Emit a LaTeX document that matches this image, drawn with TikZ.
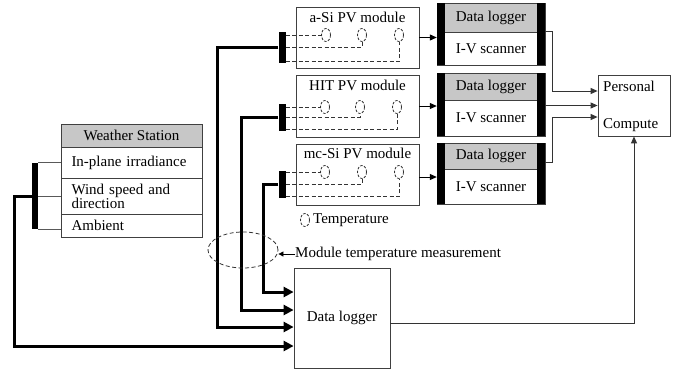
\documentclass[tikz,border=0pt]{standalone}
\usepackage{fontspec}
\setmainfont{Liberation Serif}
\usetikzlibrary{arrows.meta,shapes.geometric}
\begin{document}
\begin{tikzpicture}[x=1bp,y=-1bp,
  font=\fontsize{15bp}{14bp}\selectfont,
  box/.style={draw=black!75, line width=0.8bp, rectangle, inner sep=0pt},
  hdr/.style={box, fill=black!22},
  bar/.style={fill=black, draw=none, rectangle, inner sep=0pt},
  txt/.style={inner sep=0pt},
  thk/.style={line width=3bp},
  thkarrow/.style={line width=3bp, -{Triangle[length=10bp,width=10bp]}},
  thinarrow/.style={line width=1bp, draw=black!80, -{Triangle[length=7bp,width=6bp]}},
  thinline/.style={line width=1bp, draw=black!65},
  dsh/.style={dash pattern=on 4bp off 2.5bp, line width=0.8bp, draw=black!80},
  tc/.style={ellipse, draw=black!80, dash pattern=on 2.5bp off 1.5bp, line width=0.8bp,
    minimum width=9bp, minimum height=13bp, inner sep=0pt}]
\useasboundingbox (0,0) rectangle (675,374);

% ---------- PV modules ----------
\node[box, minimum width=123bp, minimum height=61bp] (asi) at (357.5,37.5) {};
\node[txt] (asiT) at (357.5,17) {a-Si PV module};
\node[bar, minimum width=7bp, minimum height=31bp] (asib) at (282,47.5) {};
\node[tc] (asi1) at (326,35) {};
\node[tc] (asi2) at (362,35) {};
\node[tc] (asi3) at (399,35) {};
\draw[dsh] (asib.east |- asi1) -- (asi1.west);
\draw[dsh] (asib.east) -| (asi2.south);
\draw[dsh] ([yshift=1.5bp]asib.south east) -| (asi3.south);

\node[box, minimum width=123bp, minimum height=62bp] (hit) at (357.5,106) {};
\node[txt] (hitT) at (357.5,85) {HIT PV module};
\node[bar, minimum width=7bp, minimum height=27bp] (hitb) at (282,117.5) {};
\node[tc] (hit1) at (325,107) {};
\node[tc] (hit2) at (360,107) {};
\node[tc] (hit3) at (397,107) {};
\draw[dsh] (hitb.east |- hit1) -- (hit1.west);
\draw[dsh] (hitb.east) -| (hit2.south);
\draw[dsh] ([yshift=1.5bp]hitb.south east) -| (hit3.south);

\node[box, minimum width=123bp, minimum height=61bp] (mc) at (357.5,174.5) {};
\node[txt] (mcT) at (357.5,153) {mc-Si PV module};
\node[bar, minimum width=7bp, minimum height=27bp] (mcb) at (282,184.5) {};
\node[tc] (mc1) at (325,172) {};
\node[tc] (mc2) at (362,172) {};
\node[tc] (mc3) at (399,172) {};
\draw[dsh] (mcb.east |- mc1) -- (mc1.west);
\draw[dsh] (mcb.east) -| (mc2.south);
\draw[dsh] ([yshift=1.5bp]mcb.south east) -| (mc3.south);

% legend
\node[tc] (tleg) at (305,220) {};
\node[txt, anchor=west] (tlegT) at (313,220) {Temperature};

% ---------- data loggers / I-V scanners ----------
\node[hdr, minimum width=108bp, minimum height=29bp] (lg1h) at (491,17.5) {Data logger};
\node[box, minimum width=108bp, minimum height=33bp] (lg1b) at (491,48.5) {I-V scanner};
\node[bar, minimum width=8bp, minimum height=62bp] (lg1l) at (441,34) {};
\node[bar, minimum width=8bp, minimum height=62bp] (lg1r) at (541,34) {};

\node[hdr, minimum width=108bp, minimum height=27bp] (lg2h) at (491,86.5) {Data logger};
\node[box, minimum width=108bp, minimum height=36bp] (lg2b) at (491,118) {I-V scanner};
\node[bar, minimum width=8bp, minimum height=63bp] (lg2l) at (441,104.5) {};
\node[bar, minimum width=8bp, minimum height=63bp] (lg2r) at (541,104.5) {};

\node[hdr, minimum width=108bp, minimum height=26bp] (lg3h) at (491,156) {Data logger};
\node[box, minimum width=108bp, minimum height=35bp] (lg3b) at (491,186.5) {I-V scanner};
\node[bar, minimum width=8bp, minimum height=61bp] (lg3l) at (441,173.5) {};
\node[bar, minimum width=8bp, minimum height=61bp] (lg3r) at (541,173.5) {};

\draw[thinarrow, draw=black] (asi.east) -- (asi.east -| lg1l.west);
\draw[thinarrow, draw=black] (hit.east) -- (hit.east -| lg2l.west);
\draw[thinarrow, draw=black] ([yshift=-2.5bp]mc.east) -- ([yshift=-2.5bp]mc.east -| lg3l.west);

% ---------- personal computer ----------
\node[box, minimum width=72bp, minimum height=61bp] (pc) at (634,105.5) {};
\node[txt, anchor=west] (pc1) at (603,86) {Personal};
\node[txt, anchor=west] (pc2) at (603,125) {Compute};

\draw[thinarrow] (lg1r.east |- lg1b.north) -- ++(7,0) |- ([yshift=14.5bp]pc.west);
\draw[thinarrow] (lg2r.east |- pc.west) -- (pc.west);
\draw[thinarrow] ([yshift=11.5bp]lg3r.east) -- ++(7,0) |- ([yshift=-11.5bp]pc.west);

% ---------- weather station ----------
\node[hdr, minimum width=141bp, minimum height=23bp] (wsh) at (131.5,135.5) {Weather Station};
\node[box, minimum width=141bp, minimum height=31bp, text width=120bp, align=left] (ws1) at (131.5,162.5) {In-plane irradiance};
\node[box, minimum width=141bp, minimum height=36bp, text width=120bp, align=left] (ws2) at (131.5,196) {Wind speed and\\direction};
\node[box, minimum width=141bp, minimum height=23bp, text width=120bp, align=left] (ws3) at (131.5,225.5) {Ambient};
\node[bar, minimum width=6bp, minimum height=66bp] (wsb) at (35,196) {};
\draw[thinline] (wsb.north east) -- (wsb.north east -| ws1.west);
\draw[thinline] (wsb.east) -- (wsb.east -| ws2.west);
\draw[thinline] (wsb.south east) -- (wsb.south east -| ws3.west);

% ---------- central data logger ----------
\node[box, minimum width=96bp, minimum height=100bp] (dl) at (342,318) {Data logger};

\coordinate (xA) at (217,327);
\coordinate (xB) at (241,310);
\coordinate (xC) at (263,292);
\coordinate (xD) at (14,346);
\draw[thkarrow] (asib.west) -| (xA) -- (xA -| dl.west);
\draw[thkarrow] (hitb.west) -| (xB) -- (xB -| dl.west);
\draw[thkarrow] (mcb.west) -| (xC) -- (xC -| dl.west);
\draw[thkarrow] (wsb.west) -| (xD) -- (xD -| dl.west);

\draw[thinarrow] ([yshift=-5bp]dl.east) -| (pc.south);

% ---------- module temperature measurement ----------
\node[ellipse, dsh, minimum width=70bp, minimum height=36bp, inner sep=0pt] (ell) at (243,250) {};
\node[txt, anchor=west] (mtm) at (295,254) {Module temperature measurement};
\draw[line width=0.8bp, -{Triangle[length=5bp,width=5bp]}] (mtm.west) -- (ell.east |- mtm.west);
\end{tikzpicture}
\end{document}
